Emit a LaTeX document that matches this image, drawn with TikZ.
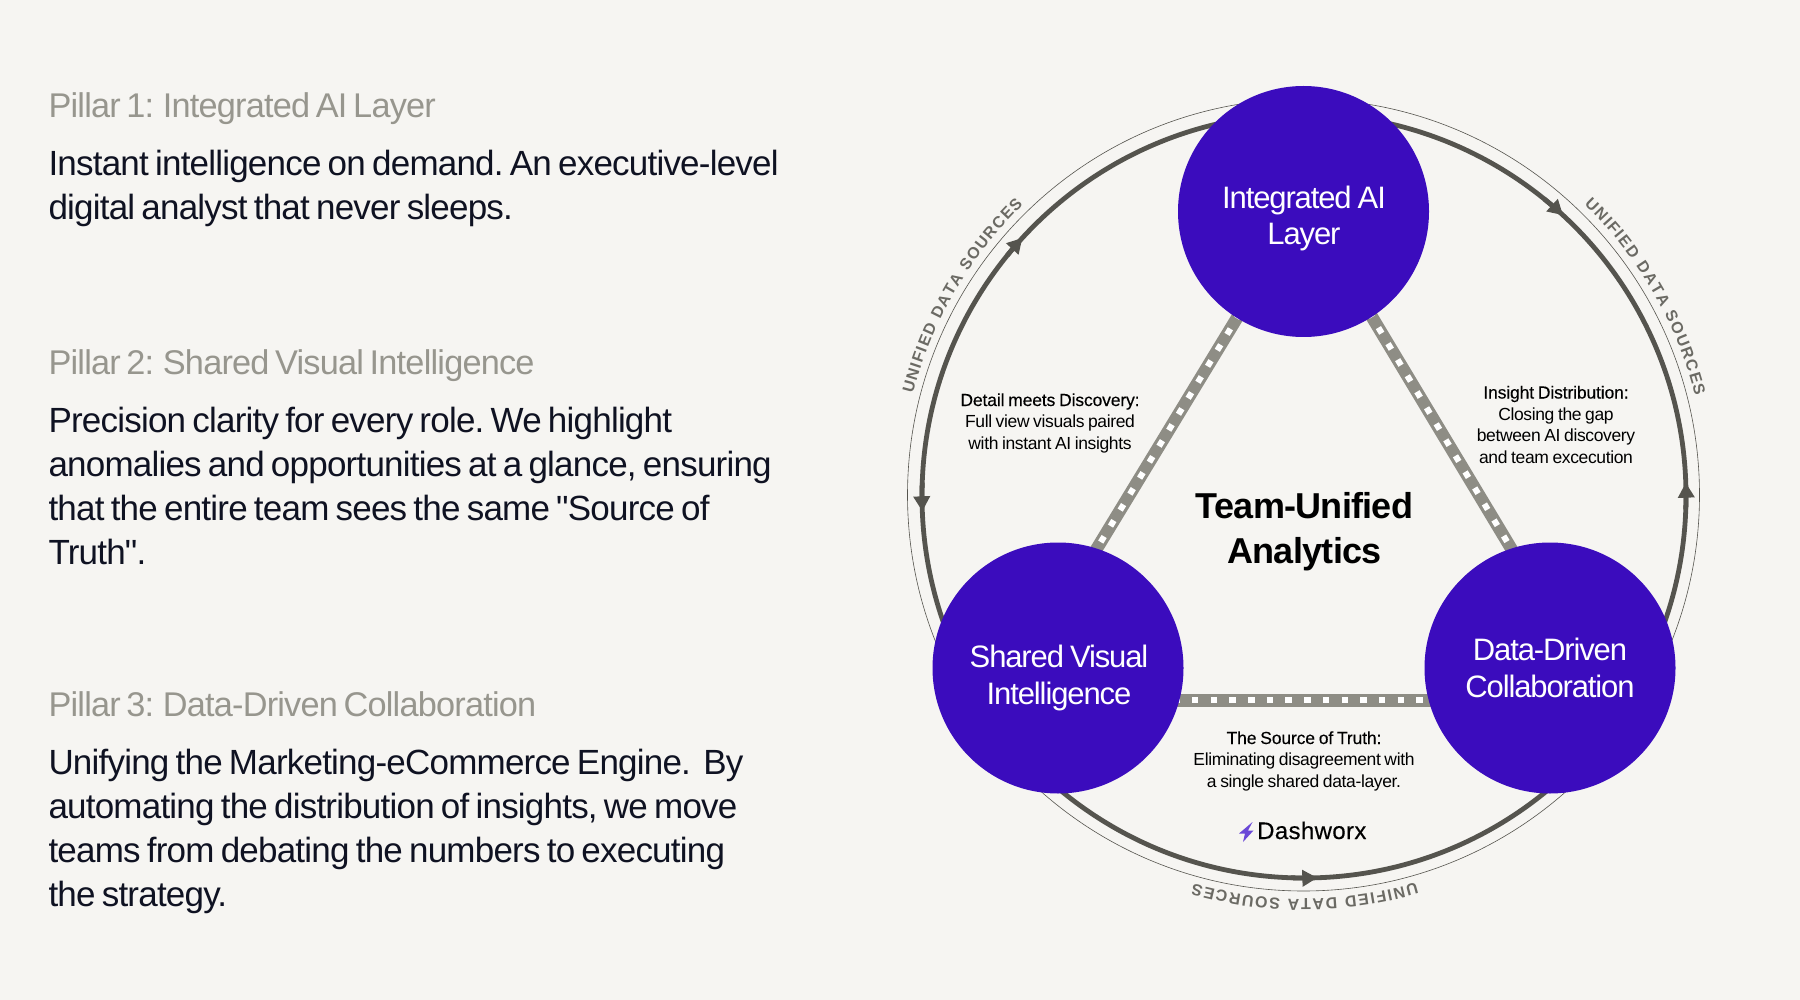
\documentclass[tikz,border=0pt]{standalone}
\usepackage{fontspec}
\usetikzlibrary{arrows.meta,decorations.text}
\setmainfont{Liberation Sans}
\newfontfamily\bodyf[LetterSpace=-2.25,WordSpace=0.7]{Liberation Sans}
\newfontfamily\headf[LetterSpace=-2.3,WordSpace=0.65]{Liberation Sans}
\newfontfamily\pillarf[LetterSpace=-3.6,WordSpace=0.8]{Liberation Sans}
\newfontfamily\capf[LetterSpace=-2.1,WordSpace=0.8]{Liberation Sans}
\newfontfamily\capbf[LetterSpace=-0.8,WordSpace=0.8,FakeBold=0.25]{Liberation Sans}
\newfontfamily\titlef[LetterSpace=-2]{Liberation Sans}
\newfontfamily\logof[LetterSpace=1.5,FakeBold=0.3]{Liberation Sans}
\newfontfamily\curvef{Liberation Sans}
\definecolor{bg}{HTML}{F6F5F2}
\definecolor{pillargray}{HTML}{97968E}
\definecolor{bodyink}{HTML}{0F1222}
\definecolor{purple}{HTML}{3B0CBD}
\definecolor{barcol}{HTML}{8E8D85}
\definecolor{ringcol}{HTML}{55544E}
\definecolor{curvecol}{HTML}{6B6A64}
\definecolor{boltcol}{HTML}{6A48D7}
\pgfdeclarelayer{back}
\pgfsetlayers{back,main}
\tikzset{
  x=1pt,y=1pt,
  heading/.style={anchor=base west,inner sep=0,outer sep=0,pillargray,font=\headf\fontsize{34.3}{44}\selectfont},
  bodytext/.style={anchor=base west,inner sep=0,outer sep=0,bodyink,align=left,font=\bodyf\fontsize{35}{44}\selectfont\frenchspacing},
  pillar/.style={circle,fill=purple,minimum size=251pt,inner sep=0,outer sep=0},
  pillarlabel/.style={anchor=base,inner sep=0,text=white,align=center,font=\pillarf\fontsize{31}{36.5}\selectfont},
  caption/.style={anchor=base,inner sep=0,text=black,align=center,font=\capf\fontsize{17.5}{21.5}\selectfont},
  bar/.style={barcol,line width=12.5pt,shorten >=-6pt,shorten <=-6pt},
  barsquares/.style={white,line width=6pt,dash pattern=on 6.5pt off 12.2pt,shorten >=-6pt,shorten <=-6pt},
  thinring/.style={draw=ringcol,line width=0.6pt},
  thickring/.style={draw=ringcol,line width=4.8pt},
  ringarrow/.style={draw=ringcol,line width=4.8pt,-{Triangle[length=15pt,width=16pt]}},
  curved/.style={decorate,decoration={text along path,text align={fit to path},
    text={|\curvef\bfseries\fontsize{16}{16}\selectfont\color{curvecol}|UNIFIED DATA SOURCES}}},
}
\begin{document}
\begin{tikzpicture}
\useasboundingbox (0,-1000) rectangle (1800,0);
\begin{pgfonlayer}{back}
\fill[bg] (0,-1000) rectangle (1800,0);
\end{pgfonlayer}
\coordinate (C) at (1304,-496);
\coordinate (T) at (1303.5,-495);
% pillars
\node[pillar] (ai) at (1303.5,-211.5) {};
\node[pillar] (sv) at (1058,-668) {};
\node[pillar] (dd) at (1550,-668) {};
\node[pillarlabel] (ailab) at (1304,-245) {Integrated AI\\Layer};
\node[pillarlabel] (svlab) at (1059,-704) {Shared Visual\\Intelligence};
\node[pillarlabel] (ddlab) at (1550,-697) {Data-Driven\\Collaboration};
\begin{pgfonlayer}{back}
\draw[thinring] (T) circle[radius=396];
\draw[thickring] (C) circle[radius=382];
\draw[ringarrow] ([shift={(51:382)}]C) arc[start angle=51,end angle=47.3,radius=382];
\draw[ringarrow] ([shift={(-2:382)}]C) arc[start angle=-2,end angle=2,radius=382];
\draw[ringarrow] ([shift={(141:382)}]C) arc[start angle=141,end angle=137.5,radius=382];
\draw[ringarrow] ([shift={(178:382)}]C) arc[start angle=178,end angle=182.3,radius=382];
\draw[ringarrow] ([shift={(268:382)}]C) arc[start angle=268,end angle=272,radius=382];
\path[curved] ([shift={(165.5:403.5)}]T) arc[start angle=165.5,end angle=134,radius=403.5];
\path[curved] ([shift={(46:404)}]T) arc[start angle=46,end angle=14.2,radius=404];
\path[curved] ([shift={(-73.8:404)}]T) arc[start angle=-73.8,end angle=-105.8,radius=404];
\draw[bar] (ai.238) -- (sv.72);
\draw[barsquares] (ai.238) -- (sv.72);
\draw[bar] (ai.303) -- (dd.108);
\draw[barsquares] (ai.303) -- (dd.108);
\draw[bar] (sv.-15) -- (dd.195);
\draw[barsquares] (sv.-15) -- (dd.195);
\end{pgfonlayer}
% centre and captions
\node[anchor=base,inner sep=0,align=center,text=black,font=\titlef\bfseries\fontsize{36}{45}\selectfont] (centre) at (1304.5,-563) {Team-Unified\\Analytics};
\node[caption] (cap1) at (1050,-449) {{\capbf Detail meets Discovery:}\\Full view visuals paired\\with instant AI insights};
\node[caption] (cap2) at (1556,-463) {{\capbf Insight Distribution:}\\Closing the gap\\between AI discovery\\and team excecution};
\node[caption] (cap3) at (1304,-787) {{\capbf The Source of Truth:}\\Eliminating disagreement with\\a single shared data-layer.};
% logo
\fill[boltcol] (1252.5,-822) -- (1239,-833.5) -- (1245,-833.5) -- (1243,-842) -- (1253.5,-830.5) -- (1248,-830.5) -- cycle;
\node[anchor=base west,inner sep=0,text=black,font=\logof\fontsize{24}{24}\selectfont] (logo) at (1257,-839) {Dashworx};
% left column
\node[heading] (h1) at (48.5,-118) {Pillar 1: Integrated AI Layer};
\node[bodytext] (b1) at (48.5,-220) {Instant intelligence on demand. An executive-level\\digital analyst that never sleeps.};
\node[heading] (h2) at (48.5,-374) {Pillar 2: Shared Visual Intelligence};
\node[bodytext] (b2) at (48.5,-564) {Precision clarity for every role. We highlight\\anomalies and opportunities at a glance, ensuring\\that the entire team sees the same "Source of\\Truth".};
\node[heading] (h3) at (48.5,-716) {Pillar 3: Data-Driven Collaboration};
\node[bodytext] (b3) at (48.5,-906) {Unifying the Marketing-eCommerce Engine.\ \ By\\automating the distribution of insights, we move\\teams from debating the numbers to executing\\the strategy.};
\end{tikzpicture}
\end{document}
